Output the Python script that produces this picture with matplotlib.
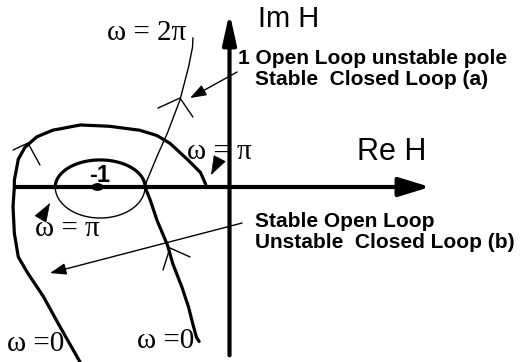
import numpy as np
import matplotlib
matplotlib.use("Agg")
import matplotlib.pyplot as plt
from matplotlib.patches import Ellipse

# Nyquist sketch: curves given as (Re H, Im H) points
loop_a_re = [-1.13, -1.30, -1.41, -1.53, -1.60, -1.63, -1.64, -1.63, -1.63, -1.60, -1.55,
             -1.46, -1.34, -1.13, -0.91, -0.68, -0.55, -0.45, -0.32, -0.22, -0.18]
loop_a_im = [-1.33, -1.03, -0.83, -0.65, -0.53, -0.35, -0.15, 0.00, 0.05, 0.21, 0.30,
             0.38, 0.43, 0.47, 0.46, 0.43, 0.39, 0.33, 0.21, 0.11, 0.02]

loop_b_re = [-0.23, -0.25, -0.28, -0.31, -0.36, -0.43, -0.47, -0.55, -0.60, -0.64]
loop_b_im = [-1.17, -1.14, -1.03, -0.91, -0.76, -0.58, -0.44, -0.25, -0.10, 0.00]

thin_re = [-0.64, -0.625, -0.55, -0.47, -0.375, -0.31, -0.28, -0.277]
thin_im = [0.00, 0.05, 0.23, 0.41, 0.66, 0.91, 1.06, 1.13]

# small circle around the critical point
crit = (-1.0, 0.0)
circ_center = -0.98
circ_a = 0.34
circ_b_top = 0.205
circ_b_bot = 0.235

# direction marks (chevrons)
chevrons = [
    ([-1.64, -1.527, -1.436], [0.28, 0.333, 0.167]),
    ([-0.542, -0.375, -0.277], [0.598, 0.674, 0.530]),
    ([-0.504, -0.451, -0.299], [-0.629, -0.462, -0.530]),
]

fig = plt.figure(figsize=(5.22, 3.62), dpi=100)
ax = fig.add_axes([0, 0, 1, 1])
ax.set_xlim(-229.5 / 132, 292.5 / 132)
ax.set_ylim(-175 / 132, 187 / 132)
ax.axis("off")

# axes with arrows
ax.annotate("", xy=(1.52, 0), xytext=(-1.625, 0),
            arrowprops=dict(arrowstyle="-|>,head_length=0.95,head_width=0.29",
                            mutation_scale=20, lw=3, color="black",
                            shrinkA=0, shrinkB=0))
ax.annotate("", xy=(0, 1.32), xytext=(0, -1.275),
            arrowprops=dict(arrowstyle="-|>,head_length=0.9,head_width=0.2",
                            mutation_scale=20, lw=3, color="black",
                            shrinkA=0, shrinkB=0))

kw = dict(color="black", solid_capstyle="round", solid_joinstyle="round")
ax.plot(loop_a_re, loop_a_im, lw=2.3, **kw)
ax.plot(loop_b_re, loop_b_im, lw=2.3, **kw)
ax.plot(thin_re, thin_im, lw=1.0, **kw)

t = np.linspace(0, np.pi, 60)
ax.plot(circ_center + circ_a * np.cos(t), circ_b_top * np.sin(t), lw=2.3, **kw)
ax.plot(circ_center + circ_a * np.cos(t), -circ_b_bot * np.sin(t), lw=1.0, **kw)

ax.add_patch(Ellipse(crit, 0.08, 0.048, color="black"))

for xs, ys in chevrons:
    ax.plot(xs, ys, lw=1.0, **kw)

# pointer arrows
def pointer(tail, tip, lw=1.0, scale=14):
    ax.annotate("", xy=tip, xytext=tail,
                arrowprops=dict(arrowstyle="-|>,head_length=0.7,head_width=0.25",
                                mutation_scale=scale, lw=lw, color="black",
                                shrinkA=0, shrinkB=0))

pointer((0.057, 0.871), (-0.299, 0.674))
pointer((0.095, -0.273), (-1.36, -0.652))
pointer((-1.43, -0.24), (-1.36, -0.121), lw=0.5, scale=18)
pointer((-0.075, 0.215), (-0.14, 0.091), lw=0.5, scale=18)

serif = dict(family="Liberation Serif", fontsize=21, va="center", ha="left")
ax.text(-0.928, 1.17, "ω = 2π", **serif)
ax.text(-0.322, 0.265, "ω = π", **serif)
ax.text(-1.473, -0.318, "ω = π", **serif)
ax.text(-1.686, -1.189, "ω =0", **serif)
ax.text(-0.701, -1.167, "ω =0", **serif)

sans = dict(family="Liberation Sans", va="center", ha="left")
ax.text(-1.06, 0.085, "-1", fontsize=17, fontweight="bold", **sans)
ax.text(0.216, 1.273, "Im H", fontsize=21, **sans)
ax.text(0.966, 0.265, "Re H", fontsize=22, **sans)

ax.text(0.064, 0.977, "1 Open Loop unstable pole", fontsize=15, fontweight="bold", **sans)
ax.text(0.193, 0.811, "Stable  Closed Loop (a)", fontsize=15, fontweight="bold", **sans)
ax.text(0.193, -0.265, "Stable Open Loop", fontsize=15, fontweight="bold", **sans)
ax.text(0.193, -0.424, "Unstable  Closed Loop (b)", fontsize=15, fontweight="bold", **sans)

fig.savefig("out.png", dpi=100)
